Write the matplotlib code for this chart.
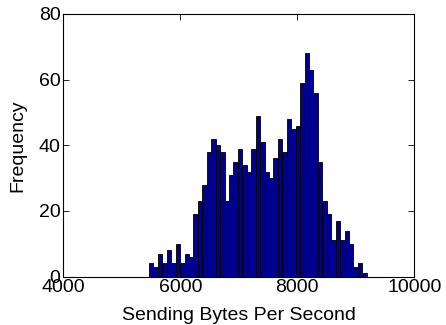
import matplotlib
matplotlib.use("Agg")
import matplotlib.pyplot as plt
import numpy as np

plt.rcParams['font.family'] = ['Liberation Sans', 'DejaVu Sans']

# Histogram data
counts = [4, 3, 7, 4, 8, 4, 10, 4, 7, 6,
          19, 23, 28, 38, 42, 40, 38, 23, 31, 35,
          39, 34, 32, 39, 49, 41, 32, 30, 36, 42,
          38, 48, 45, 46, 59, 68, 63, 56, 35, 23,
          19, 11, 17, 11, 14, 10, 3, 4, 1]
bin_start = 5464
bin_width = 76
x_ticks = [4000, 6000, 8000, 10000]
y_ticks = [0, 20, 40, 60, 80]

edges = bin_start + bin_width * np.arange(len(counts) + 1)

fig = plt.figure(figsize=(4.46, 3.25), dpi=100)
ax = fig.add_axes([0.142, 0.149, 0.787, 0.808])
ax.hist(edges[:-1], bins=edges, weights=counts, color='#00008F',
        edgecolor='black', linewidth=0.6)
ax.set_xlim(4000, 10000)
ax.set_ylim(0, 80)
ax.set_xticks(x_ticks)
ax.set_yticks(y_ticks)
ax.tick_params(direction='in', top=True, right=True, labelsize=14, length=4, width=0.6, pad=2)
for s in ax.spines.values():
    s.set_linewidth(0.8)
ax.set_xlabel('Sending Bytes Per Second', fontsize=14, labelpad=8)
ax.set_ylabel('Frequency', fontsize=14, labelpad=9)
fig.savefig('out.png', dpi=100)
